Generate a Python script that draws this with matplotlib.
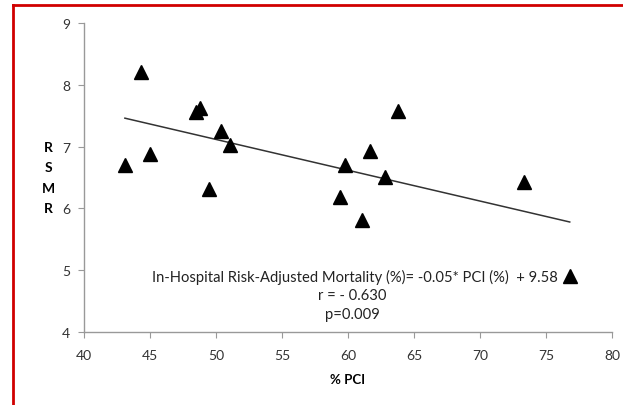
import numpy as np
import matplotlib
matplotlib.use("Agg")
import matplotlib.pyplot as plt
from matplotlib.lines import Line2D

## Data
pci = [43.1, 44.3, 45.0, 48.5, 48.8, 49.5, 50.4, 51.1,
       59.4, 59.8, 61.1, 61.7, 62.8, 63.8, 73.3, 76.8]
rsmr = [6.70, 8.21, 6.88, 7.56, 7.63, 6.32, 7.25, 7.02,
        6.19, 6.71, 5.81, 6.93, 6.50, 7.57, 6.43, 4.90]
trend_x = [43.1, 76.8]
trend_y = [7.46, 5.78]
x_ticks = [40, 45, 50, 55, 60, 65, 70, 75, 80]
y_ticks = [4, 5, 6, 7, 8, 9]
eq_text = "In-Hospital Risk-Adjusted Mortality (%)= -0.05* PCI (%)  + 9.58"
r_text = "r = - 0.630"
p_text = "p=0.009"

plt.rcParams["font.family"] = ["Lato", "DejaVu Sans"]

fig = plt.figure(figsize=(6.23, 4.06), dpi=100)
ax = fig.add_axes([0.1348, 0.1798, 0.8475, 0.7611])

ax.plot(trend_x, trend_y, color="#333333", lw=1.1)
ax.plot(pci, rsmr, ls="none", marker="^", ms=9.5, color="black")

ax.set_xlim(40, 80)
ax.set_ylim(4, 9)
ax.set_xticks(x_ticks)
ax.set_yticks(y_ticks)

for side in ["top", "right"]:
    ax.spines[side].set_visible(False)
for side in ["left", "bottom"]:
    ax.spines[side].set_color("#999999")
    ax.spines[side].set_linewidth(1.0)
ax.tick_params(direction="out", length=4, color="#999999", labelsize=10,
               labelcolor="#333333")
ax.tick_params(axis="x", pad=8)
ax.tick_params(axis="y", pad=6)

ax.set_xlabel("% PCI", fontsize=9.5, fontweight="bold", labelpad=9)
ax.set_ylabel("R\nS\nM\nR", fontsize=10, fontweight="bold", rotation=0,
              linespacing=1.85, va="center", labelpad=10)

ax.text(60.5, 4.9, eq_text, ha="center", va="center", fontsize=10.6, color="#222222")
ax.text(60.3, 4.6, r_text, ha="center", va="center", fontsize=10.6, color="#222222")
ax.text(60.3, 4.29, p_text, ha="center", va="center", fontsize=10.6, color="#222222")

# red frame (top and left edges visible in the reference)
fig.add_artist(Line2D([0.021, 1.0], [0.985, 0.985], transform=fig.transFigure,
                      color="#d00000", lw=2))
fig.add_artist(Line2D([0.021, 0.021], [0.0, 0.985], transform=fig.transFigure,
                      color="#d00000", lw=2))

fig.savefig("out.png", dpi=100)
